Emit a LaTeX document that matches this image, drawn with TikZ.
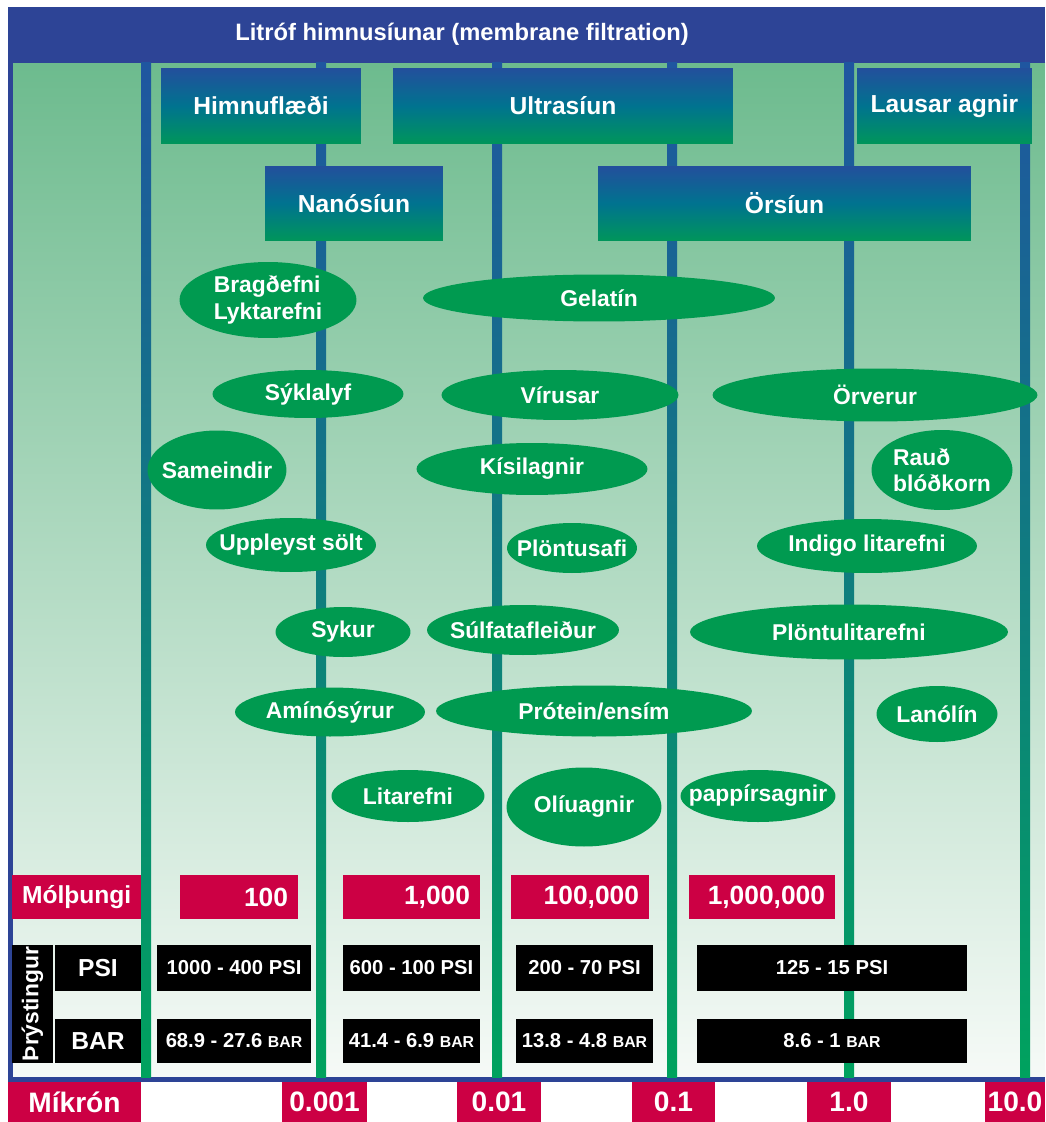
\documentclass[tikz,border=0pt]{standalone}
\usepackage{fontspec}
\setmainfont{Liberation Sans}
\usetikzlibrary{shapes.geometric}

\definecolor{hdrblue}{HTML}{2D4496}
\definecolor{bgtop}{HTML}{6DBB8E}
\definecolor{bgbot}{HTML}{F6FAF7}
\definecolor{lineblue}{HTML}{1F56A0}
\definecolor{linegreen}{HTML}{00A25E}
\definecolor{boxblue}{HTML}{234F9C}
\definecolor{boxteal}{HTML}{00738F}
\definecolor{boxgreen}{HTML}{00965A}
\definecolor{blobgreen}{HTML}{009A50}
\definecolor{molred}{HTML}{CC0044}

\begin{document}
\begin{tikzpicture}[
    x=0.02cm,
    y=-0.02cm,
    stage/.style={
        rectangle,
        top color=boxblue,
        bottom color=boxgreen,
        middle color=boxteal,
        text=white,
        inner sep=0pt,
        font=\bfseries\fontsize{14}{16}\selectfont,
    },
    blob/.style={
        ellipse,
        fill=blobgreen,
        text=white,
        inner xsep=-0.3cm,
        inner ysep=-0.2cm,
        align=center,
        font=\bfseries\fontsize{13}{15}\selectfont,
    },
    molcell/.style={
        rectangle,
        fill=molred,
        text=white,
        inner xsep=0.2cm,
        inner ysep=0pt,
        minimum height=0.88cm,
        align=right,
        font=\bfseries\fontsize{15}{17}\selectfont,
    },
    presscell/.style={
        rectangle,
        fill=black,
        text=white,
        inner sep=0pt,
        font=\bfseries\fontsize{11.5}{13}\selectfont,
    },
    micron/.style={
        rectangle,
        fill=molred,
        text=white,
        inner sep=0pt,
        minimum height=0.8cm,
        font=\bfseries\fontsize{16}{18}\selectfont,
    }
]
    \useasboundingbox (0,0) rectangle (1045,1122);

    % Frame and background
    \shade[top color=bgtop, bottom color=bgbot] (13,63) rectangle (1045,1077);
    \fill[hdrblue] (8,7) rectangle (1045,63);
    \fill[hdrblue] (8,7) rectangle (13,1082);
    \fill[hdrblue] (8,1077) rectangle (1045,1082);
    \node[text=white, font=\bfseries\fontsize{13.5}{15}\selectfont] (title) at (462,34)
        {Litróf himnusíunar (membrane filtration)};

    % Scale lines
    \foreach \x in {146,321,497,672,849,1025}
        \shade[top color=lineblue, bottom color=linegreen] (\x-5,63) rectangle (\x+5,1077);

    % Filtration stages
    \node[stage, minimum width=4cm, minimum height=1.52cm] (himnu) at (261,106) {Himnuflæði};
    \node[stage, minimum width=6.8cm, minimum height=1.52cm] (ultra) at (563,106) {Ultrasíun};
    \node[stage, minimum width=3.5cm, minimum height=1.52cm] (lausar) at (944.5,106) {Lausar agnir};
    \node[stage, minimum width=3.56cm, minimum height=1.5cm] (nano) at (354,203.5) {Nanósíun};
    \node[stage, minimum width=7.46cm, minimum height=1.5cm] (orsiun) at (784.5,203.5) {Örsíun};

    % Particles
    \node[blob, align=left, minimum width=3.54cm, minimum height=1.52cm] (bragd) at (268,300) {Bragðefni\\Lyktarefni};
    \node[blob, minimum width=7.04cm, minimum height=0.94cm] (gelatin) at (599,298) {Gelatín};
    \node[blob, minimum width=3.82cm, minimum height=0.96cm] (syklalyf) at (308,394) {Sýklalyf};
    \node[blob, minimum width=4.74cm, minimum height=1cm] (virusar) at (560,395) {Vírusar};
    \node[blob, minimum width=6.5cm, minimum height=1.06cm] (orverur) at (875,395) {Örverur};
    \node[blob, minimum width=2.78cm, minimum height=1.58cm] (sameindir) at (217,470) {Sameindir};
    \node[blob, minimum width=4.62cm, minimum height=1.04cm] (kisil) at (532,469) {Kísilagnir};
    \node[blob, align=left, minimum width=2.82cm, minimum height=1.6cm] (raud) at (942,470) {Rauð\\blóðkorn};
    \node[blob, minimum width=3.4cm, minimum height=1.08cm] (uppleyst) at (291,545) {Uppleyst sölt};
    \node[blob, minimum width=2.6cm, minimum height=1cm] (plontusafi) at (572,548) {Plöntusafi};
    \node[blob, minimum width=4.4cm, minimum height=1.08cm] (indigo) at (867,546) {Indigo litarefni};
    \node[blob, minimum width=2.7cm, minimum height=1cm] (sykur) at (343,632) {Sykur};
    \node[blob, minimum width=3.84cm, minimum height=1cm] (sulfat) at (523,630) {Súlfatafleiður};
    \node[blob, minimum width=6.36cm, minimum height=1.1cm] (plontulit) at (849,632) {Plöntulitarefni};
    \node[blob, minimum width=3.8cm, minimum height=0.98cm] (amino) at (330,712) {Amínósýrur};
    \node[blob, minimum width=6.32cm, minimum height=1.02cm] (protein) at (594,711) {Prótein/ensím};
    \node[blob, minimum width=2.42cm, minimum height=1.12cm] (lanolin) at (937,714) {Lanólín};
    \node[blob, minimum width=3.06cm, minimum height=1.04cm] (litarefni) at (408,796) {Litarefni};
    \node[blob, minimum width=3.1cm, minimum height=1.58cm] (oliu) at (584,807) {Olíuagnir};
    \node[blob, minimum width=3.1cm, minimum height=1.04cm] (pappirs) at (758,796) {pappírsagnir};

    % Molecular weight
    \node[molcell, text width=2.18cm, font=\bfseries\fontsize{14}{16}\selectfont] (mol) at (76.5,897) {Mólþungi};
    \node[molcell, text width=1.96cm] (mol100) at (239,897) {100};
    \node[molcell, text width=2.34cm] (mol1k) at (411.5,897) {1,000};
    \node[molcell, text width=2.36cm] (mol100k) at (580,897) {100,000};
    \node[molcell, text width=2.52cm] (mol1M) at (762,897) {1,000,000};

    % Pressure
    \node[presscell, minimum width=0.82cm, minimum height=2.36cm] (thry) at (32.5,1004) {};
    \node[text=white, rotate=90, font=\bfseries\fontsize{13}{15}\selectfont] (thrytext) at (thry.center) {Þrýstingur};
    \node[presscell, minimum width=1.72cm, minimum height=0.92cm, font=\bfseries\fontsize{14}{16}\selectfont] (psi) at (98,968) {PSI};
    \node[presscell, minimum width=3.08cm, minimum height=0.92cm] (psi1) at (234,968) {1000 - 400 PSI};
    \node[presscell, minimum width=2.74cm, minimum height=0.92cm] (psi2) at (411.5,968) {600 - 100 PSI};
    \node[presscell, minimum width=2.74cm, minimum height=0.92cm] (psi3) at (584.5,968) {200 - 70 PSI};
    \node[presscell, minimum width=5.4cm, minimum height=0.92cm] (psi4) at (832,968) {125 - 15 PSI};
    \node[presscell, minimum width=1.72cm, minimum height=0.88cm, font=\bfseries\fontsize{14}{16}\selectfont] (bar) at (98,1041) {BAR};
    \node[presscell, minimum width=3.08cm, minimum height=0.88cm] (bar1) at (234,1041) {68.9 - 27.6 {\fontsize{9}{11}\selectfont BAR}};
    \node[presscell, minimum width=2.74cm, minimum height=0.88cm] (bar2) at (411.5,1041) {41.4 - 6.9 {\fontsize{9}{11}\selectfont BAR}};
    \node[presscell, minimum width=2.74cm, minimum height=0.88cm] (bar3) at (584.5,1041) {13.8 - 4.8 {\fontsize{9}{11}\selectfont BAR}};
    \node[presscell, minimum width=5.4cm, minimum height=0.88cm] (bar4) at (832,1041) {8.6 - 1 {\fontsize{9}{11}\selectfont BAR}};

    % Micron scale
    \node[micron, minimum width=2.66cm] (mikron) at (74.5,1102) {Míkrón};
    \node[micron, minimum width=1.7cm] (mic1) at (324.5,1102) {0.001};
    \node[micron, minimum width=1.68cm] (mic2) at (499,1102) {0.01};
    \node[micron, minimum width=1.66cm] (mic3) at (673.5,1102) {0.1};
    \node[micron, minimum width=1.68cm] (mic4) at (849,1102) {1.0};
    \node[micron, minimum width=1.2cm] (mic5) at (1015,1102) {10.0};
\end{tikzpicture}
\end{document}
